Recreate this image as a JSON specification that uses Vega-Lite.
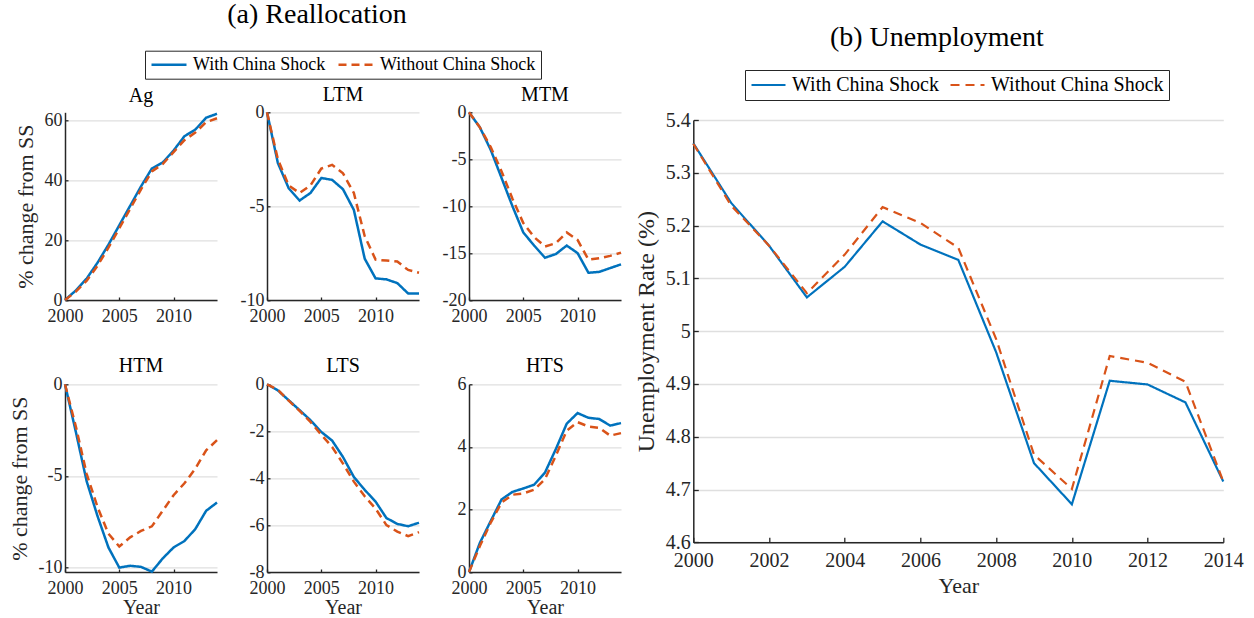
{
  "$schema": "https://vega.github.io/schema/vega-lite/v6.json",
  "autosize": {"type": "none"},
  "padding": {"left": 65, "top": 112.3, "right": 1189, "bottom": 505.7},
  "background": "white",
  "datasets": {
    "sectors": [
      {"panel":"Ag","year":2000,"series":"With China Shock","value":0},
      {"panel":"Ag","year":2001,"series":"With China Shock","value":3.2},
      {"panel":"Ag","year":2002,"series":"With China Shock","value":7.2},
      {"panel":"Ag","year":2003,"series":"With China Shock","value":12.5},
      {"panel":"Ag","year":2004,"series":"With China Shock","value":18.5},
      {"panel":"Ag","year":2005,"series":"With China Shock","value":25},
      {"panel":"Ag","year":2006,"series":"With China Shock","value":31.5},
      {"panel":"Ag","year":2007,"series":"With China Shock","value":38},
      {"panel":"Ag","year":2008,"series":"With China Shock","value":44},
      {"panel":"Ag","year":2009,"series":"With China Shock","value":46},
      {"panel":"Ag","year":2010,"series":"With China Shock","value":50},
      {"panel":"Ag","year":2011,"series":"With China Shock","value":54.8},
      {"panel":"Ag","year":2012,"series":"With China Shock","value":57},
      {"panel":"Ag","year":2013,"series":"With China Shock","value":61},
      {"panel":"Ag","year":2014,"series":"With China Shock","value":62.3},
      {"panel":"Ag","year":2000,"series":"Without China Shock","value":0},
      {"panel":"Ag","year":2001,"series":"Without China Shock","value":2.8},
      {"panel":"Ag","year":2002,"series":"Without China Shock","value":6.5},
      {"panel":"Ag","year":2003,"series":"Without China Shock","value":11.5},
      {"panel":"Ag","year":2004,"series":"Without China Shock","value":17.5},
      {"panel":"Ag","year":2005,"series":"Without China Shock","value":24},
      {"panel":"Ag","year":2006,"series":"Without China Shock","value":30.5},
      {"panel":"Ag","year":2007,"series":"Without China Shock","value":37},
      {"panel":"Ag","year":2008,"series":"Without China Shock","value":43},
      {"panel":"Ag","year":2009,"series":"Without China Shock","value":45.5},
      {"panel":"Ag","year":2010,"series":"Without China Shock","value":49.5},
      {"panel":"Ag","year":2011,"series":"Without China Shock","value":53.5},
      {"panel":"Ag","year":2012,"series":"Without China Shock","value":56},
      {"panel":"Ag","year":2013,"series":"Without China Shock","value":59.5},
      {"panel":"Ag","year":2014,"series":"Without China Shock","value":60.8},
      {"panel":"LTM","year":2000,"series":"With China Shock","value":0},
      {"panel":"LTM","year":2001,"series":"With China Shock","value":-2.7},
      {"panel":"LTM","year":2002,"series":"With China Shock","value":-4.05},
      {"panel":"LTM","year":2003,"series":"With China Shock","value":-4.7},
      {"panel":"LTM","year":2004,"series":"With China Shock","value":-4.3},
      {"panel":"LTM","year":2005,"series":"With China Shock","value":-3.5},
      {"panel":"LTM","year":2006,"series":"With China Shock","value":-3.6},
      {"panel":"LTM","year":2007,"series":"With China Shock","value":-4.1},
      {"panel":"LTM","year":2008,"series":"With China Shock","value":-5.2},
      {"panel":"LTM","year":2009,"series":"With China Shock","value":-7.8},
      {"panel":"LTM","year":2010,"series":"With China Shock","value":-8.85},
      {"panel":"LTM","year":2011,"series":"With China Shock","value":-8.9},
      {"panel":"LTM","year":2012,"series":"With China Shock","value":-9.1},
      {"panel":"LTM","year":2013,"series":"With China Shock","value":-9.65},
      {"panel":"LTM","year":2014,"series":"With China Shock","value":-9.65},
      {"panel":"LTM","year":2000,"series":"Without China Shock","value":0},
      {"panel":"LTM","year":2001,"series":"Without China Shock","value":-2.5},
      {"panel":"LTM","year":2002,"series":"Without China Shock","value":-3.9},
      {"panel":"LTM","year":2003,"series":"Without China Shock","value":-4.3},
      {"panel":"LTM","year":2004,"series":"Without China Shock","value":-3.9},
      {"panel":"LTM","year":2005,"series":"Without China Shock","value":-3.0},
      {"panel":"LTM","year":2006,"series":"Without China Shock","value":-2.8},
      {"panel":"LTM","year":2007,"series":"Without China Shock","value":-3.25},
      {"panel":"LTM","year":2008,"series":"Without China Shock","value":-4.3},
      {"panel":"LTM","year":2009,"series":"Without China Shock","value":-6.6},
      {"panel":"LTM","year":2010,"series":"Without China Shock","value":-7.85},
      {"panel":"LTM","year":2011,"series":"Without China Shock","value":-7.9},
      {"panel":"LTM","year":2012,"series":"Without China Shock","value":-7.95},
      {"panel":"LTM","year":2013,"series":"Without China Shock","value":-8.4},
      {"panel":"LTM","year":2014,"series":"Without China Shock","value":-8.55},
      {"panel":"MTM","year":2000,"series":"With China Shock","value":0},
      {"panel":"MTM","year":2001,"series":"With China Shock","value":-1.6},
      {"panel":"MTM","year":2002,"series":"With China Shock","value":-4.0},
      {"panel":"MTM","year":2003,"series":"With China Shock","value":-7.0},
      {"panel":"MTM","year":2004,"series":"With China Shock","value":-10.0},
      {"panel":"MTM","year":2005,"series":"With China Shock","value":-12.8},
      {"panel":"MTM","year":2006,"series":"With China Shock","value":-14.2},
      {"panel":"MTM","year":2007,"series":"With China Shock","value":-15.5},
      {"panel":"MTM","year":2008,"series":"With China Shock","value":-15.1},
      {"panel":"MTM","year":2009,"series":"With China Shock","value":-14.2},
      {"panel":"MTM","year":2010,"series":"With China Shock","value":-15.0},
      {"panel":"MTM","year":2011,"series":"With China Shock","value":-17.1},
      {"panel":"MTM","year":2012,"series":"With China Shock","value":-17.0},
      {"panel":"MTM","year":2013,"series":"With China Shock","value":-16.6},
      {"panel":"MTM","year":2014,"series":"With China Shock","value":-16.2},
      {"panel":"MTM","year":2000,"series":"Without China Shock","value":0},
      {"panel":"MTM","year":2001,"series":"Without China Shock","value":-1.6},
      {"panel":"MTM","year":2002,"series":"Without China Shock","value":-3.7},
      {"panel":"MTM","year":2003,"series":"Without China Shock","value":-6.3},
      {"panel":"MTM","year":2004,"series":"Without China Shock","value":-9.2},
      {"panel":"MTM","year":2005,"series":"Without China Shock","value":-11.8},
      {"panel":"MTM","year":2006,"series":"Without China Shock","value":-13.3},
      {"panel":"MTM","year":2007,"series":"Without China Shock","value":-14.3},
      {"panel":"MTM","year":2008,"series":"Without China Shock","value":-13.95},
      {"panel":"MTM","year":2009,"series":"Without China Shock","value":-12.8},
      {"panel":"MTM","year":2010,"series":"Without China Shock","value":-13.6},
      {"panel":"MTM","year":2011,"series":"Without China Shock","value":-15.7},
      {"panel":"MTM","year":2012,"series":"Without China Shock","value":-15.55},
      {"panel":"MTM","year":2013,"series":"Without China Shock","value":-15.3},
      {"panel":"MTM","year":2014,"series":"Without China Shock","value":-14.95},
      {"panel":"HTM","year":2000,"series":"With China Shock","value":0},
      {"panel":"HTM","year":2001,"series":"With China Shock","value":-2.6},
      {"panel":"HTM","year":2002,"series":"With China Shock","value":-5.3},
      {"panel":"HTM","year":2003,"series":"With China Shock","value":-7.2},
      {"panel":"HTM","year":2004,"series":"With China Shock","value":-8.9},
      {"panel":"HTM","year":2005,"series":"With China Shock","value":-10.0},
      {"panel":"HTM","year":2006,"series":"With China Shock","value":-9.9},
      {"panel":"HTM","year":2007,"series":"With China Shock","value":-9.96},
      {"panel":"HTM","year":2008,"series":"With China Shock","value":-10.22},
      {"panel":"HTM","year":2009,"series":"With China Shock","value":-9.5},
      {"panel":"HTM","year":2010,"series":"With China Shock","value":-8.9},
      {"panel":"HTM","year":2011,"series":"With China Shock","value":-8.55},
      {"panel":"HTM","year":2012,"series":"With China Shock","value":-7.9},
      {"panel":"HTM","year":2013,"series":"With China Shock","value":-6.9},
      {"panel":"HTM","year":2014,"series":"With China Shock","value":-6.45},
      {"panel":"HTM","year":2000,"series":"Without China Shock","value":0},
      {"panel":"HTM","year":2001,"series":"Without China Shock","value":-2.3},
      {"panel":"HTM","year":2002,"series":"Without China Shock","value":-4.9},
      {"panel":"HTM","year":2003,"series":"Without China Shock","value":-6.7},
      {"panel":"HTM","year":2004,"series":"Without China Shock","value":-8.15},
      {"panel":"HTM","year":2005,"series":"Without China Shock","value":-8.85},
      {"panel":"HTM","year":2006,"series":"Without China Shock","value":-8.35},
      {"panel":"HTM","year":2007,"series":"Without China Shock","value":-8.0},
      {"panel":"HTM","year":2008,"series":"Without China Shock","value":-7.75},
      {"panel":"HTM","year":2009,"series":"Without China Shock","value":-6.9},
      {"panel":"HTM","year":2010,"series":"Without China Shock","value":-6.05},
      {"panel":"HTM","year":2011,"series":"Without China Shock","value":-5.4},
      {"panel":"HTM","year":2012,"series":"Without China Shock","value":-4.6},
      {"panel":"HTM","year":2013,"series":"Without China Shock","value":-3.6},
      {"panel":"HTM","year":2014,"series":"Without China Shock","value":-3.05},
      {"panel":"LTS","year":2000,"series":"With China Shock","value":0},
      {"panel":"LTS","year":2001,"series":"With China Shock","value":-0.26},
      {"panel":"LTS","year":2002,"series":"With China Shock","value":-0.68},
      {"panel":"LTS","year":2003,"series":"With China Shock","value":-1.1},
      {"panel":"LTS","year":2004,"series":"With China Shock","value":-1.53},
      {"panel":"LTS","year":2005,"series":"With China Shock","value":-2.03},
      {"panel":"LTS","year":2006,"series":"With China Shock","value":-2.4},
      {"panel":"LTS","year":2007,"series":"With China Shock","value":-3.1},
      {"panel":"LTS","year":2008,"series":"With China Shock","value":-3.95},
      {"panel":"LTS","year":2009,"series":"With China Shock","value":-4.5},
      {"panel":"LTS","year":2010,"series":"With China Shock","value":-5.0},
      {"panel":"LTS","year":2011,"series":"With China Shock","value":-5.7},
      {"panel":"LTS","year":2012,"series":"With China Shock","value":-5.95},
      {"panel":"LTS","year":2013,"series":"With China Shock","value":-6.05},
      {"panel":"LTS","year":2014,"series":"With China Shock","value":-5.9},
      {"panel":"LTS","year":2000,"series":"Without China Shock","value":0},
      {"panel":"LTS","year":2001,"series":"Without China Shock","value":-0.23},
      {"panel":"LTS","year":2002,"series":"Without China Shock","value":-0.7},
      {"panel":"LTS","year":2003,"series":"Without China Shock","value":-1.13},
      {"panel":"LTS","year":2004,"series":"Without China Shock","value":-1.6},
      {"panel":"LTS","year":2005,"series":"Without China Shock","value":-2.15},
      {"panel":"LTS","year":2006,"series":"Without China Shock","value":-2.67},
      {"panel":"LTS","year":2007,"series":"Without China Shock","value":-3.38},
      {"panel":"LTS","year":2008,"series":"Without China Shock","value":-4.15},
      {"panel":"LTS","year":2009,"series":"Without China Shock","value":-4.77},
      {"panel":"LTS","year":2010,"series":"Without China Shock","value":-5.3},
      {"panel":"LTS","year":2011,"series":"Without China Shock","value":-6.0},
      {"panel":"LTS","year":2012,"series":"Without China Shock","value":-6.28},
      {"panel":"LTS","year":2013,"series":"Without China Shock","value":-6.47},
      {"panel":"LTS","year":2014,"series":"Without China Shock","value":-6.3},
      {"panel":"HTS","year":2000,"series":"With China Shock","value":0},
      {"panel":"HTS","year":2001,"series":"With China Shock","value":0.93},
      {"panel":"HTS","year":2002,"series":"With China Shock","value":1.63},
      {"panel":"HTS","year":2003,"series":"With China Shock","value":2.32},
      {"panel":"HTS","year":2004,"series":"With China Shock","value":2.56},
      {"panel":"HTS","year":2005,"series":"With China Shock","value":2.67},
      {"panel":"HTS","year":2006,"series":"With China Shock","value":2.79},
      {"panel":"HTS","year":2007,"series":"With China Shock","value":3.18},
      {"panel":"HTS","year":2008,"series":"With China Shock","value":3.93},
      {"panel":"HTS","year":2009,"series":"With China Shock","value":4.74},
      {"panel":"HTS","year":2010,"series":"With China Shock","value":5.08},
      {"panel":"HTS","year":2011,"series":"With China Shock","value":4.93},
      {"panel":"HTS","year":2012,"series":"With China Shock","value":4.89},
      {"panel":"HTS","year":2013,"series":"With China Shock","value":4.68},
      {"panel":"HTS","year":2014,"series":"With China Shock","value":4.76},
      {"panel":"HTS","year":2000,"series":"Without China Shock","value":0},
      {"panel":"HTS","year":2001,"series":"Without China Shock","value":0.83},
      {"panel":"HTS","year":2002,"series":"Without China Shock","value":1.58},
      {"panel":"HTS","year":2003,"series":"Without China Shock","value":2.22},
      {"panel":"HTS","year":2004,"series":"Without China Shock","value":2.47},
      {"panel":"HTS","year":2005,"series":"Without China Shock","value":2.51},
      {"panel":"HTS","year":2006,"series":"Without China Shock","value":2.63},
      {"panel":"HTS","year":2007,"series":"Without China Shock","value":2.97},
      {"panel":"HTS","year":2008,"series":"Without China Shock","value":3.72},
      {"panel":"HTS","year":2009,"series":"Without China Shock","value":4.52},
      {"panel":"HTS","year":2010,"series":"Without China Shock","value":4.79},
      {"panel":"HTS","year":2011,"series":"Without China Shock","value":4.65},
      {"panel":"HTS","year":2012,"series":"Without China Shock","value":4.61},
      {"panel":"HTS","year":2013,"series":"Without China Shock","value":4.36},
      {"panel":"HTS","year":2014,"series":"Without China Shock","value":4.44}
    ],
    "unemp": [
      {"year":2000,"series":"With China Shock","rate":5.356},
      {"year":2001,"series":"With China Shock","rate":5.243},
      {"year":2002,"series":"With China Shock","rate":5.162},
      {"year":2003,"series":"With China Shock","rate":5.064},
      {"year":2004,"series":"With China Shock","rate":5.122},
      {"year":2005,"series":"With China Shock","rate":5.208},
      {"year":2006,"series":"With China Shock","rate":5.164},
      {"year":2007,"series":"With China Shock","rate":5.135},
      {"year":2008,"series":"With China Shock","rate":4.96},
      {"year":2009,"series":"With China Shock","rate":4.75},
      {"year":2010,"series":"With China Shock","rate":4.672},
      {"year":2011,"series":"With China Shock","rate":4.906},
      {"year":2012,"series":"With China Shock","rate":4.899},
      {"year":2013,"series":"With China Shock","rate":4.865},
      {"year":2014,"series":"With China Shock","rate":4.715},
      {"year":2000,"series":"Without China Shock","rate":5.355},
      {"year":2001,"series":"Without China Shock","rate":5.238},
      {"year":2002,"series":"Without China Shock","rate":5.162},
      {"year":2003,"series":"Without China Shock","rate":5.072},
      {"year":2004,"series":"Without China Shock","rate":5.145},
      {"year":2005,"series":"Without China Shock","rate":5.235},
      {"year":2006,"series":"Without China Shock","rate":5.205},
      {"year":2007,"series":"Without China Shock","rate":5.158},
      {"year":2008,"series":"Without China Shock","rate":4.985},
      {"year":2009,"series":"Without China Shock","rate":4.766},
      {"year":2010,"series":"Without China Shock","rate":4.701},
      {"year":2011,"series":"Without China Shock","rate":4.953},
      {"year":2012,"series":"Without China Shock","rate":4.94},
      {"year":2013,"series":"Without China Shock","rate":4.904},
      {"year":2014,"series":"Without China Shock","rate":4.715}
    ]
  },
  "hconcat": [
    {
      "title": {"text": "(a) Reallocation", "fontSize": 28, "anchor": "middle", "baseline": "alphabetic", "offset": -1},
      "columns": 3,
      "spacing": {"row": 84, "column": 50},
      "bounds": "flush",
      "resolve": {"scale": {"color": "shared", "strokeDash": "shared"}, "legend": {"color": "shared", "strokeDash": "shared"}},
      "concat": [
        {
          "width": 152, "height": 187.7,
          "title": {"text": "Ag", "offset": 3},
          "data": {"name": "sectors"},
          "transform": [{"filter": "datum.panel === 'Ag'"}],
          "mark": {"type": "line", "strokeWidth": 2.5},
          "encoding": {
            "x": {"field": "year", "type": "quantitative", "scale": {"domain": [2000, 2014], "nice": false, "zero": false}, "axis": {"values": [2000, 2005, 2010], "title": null}},
            "y": {"field": "value", "type": "quantitative", "scale": {"domain": [0, 62.8], "nice": false, "zero": false}, "axis": {"values": [0, 20, 40, 60], "title": "% change from SS"}},
            "color": {"field": "series", "type": "nominal", "scale": {"domain": ["With China Shock", "Without China Shock"], "range": ["#0072BD", "#D95319"]}, "legend": {"orient": "none", "legendX": 80, "legendY": -61.6, "title": null, "labelFontSize": 18, "clipHeight": 18, "direction": "horizontal", "columns": 2}},
            "strokeDash": {"field": "series", "type": "nominal", "scale": {"domain": ["With China Shock", "Without China Shock"], "range": [[1, 0], [8, 5]]}, "legend": {"orient": "none", "legendX": 80, "legendY": -61.6, "title": null, "labelFontSize": 18, "clipHeight": 18, "direction": "horizontal", "columns": 2}}
          }
        },
        {
          "width": 152, "height": 187.7,
          "title": {"text": "LTM", "offset": -1.4},
          "data": {"name": "sectors"},
          "transform": [{"filter": "datum.panel === 'LTM'"}],
          "mark": {"type": "line", "strokeWidth": 2.5},
          "encoding": {
            "x": {"field": "year", "type": "quantitative", "scale": {"domain": [2000, 2014], "nice": false, "zero": false}, "axis": {"values": [2000, 2005, 2010], "title": null}},
            "y": {"field": "value", "type": "quantitative", "scale": {"domain": [-10, 0], "nice": false, "zero": false}, "axis": {"values": [-10, -5, 0], "title": null}},
            "color": {"field": "series", "type": "nominal", "scale": {"domain": ["With China Shock", "Without China Shock"], "range": ["#0072BD", "#D95319"]}},
            "strokeDash": {"field": "series", "type": "nominal", "scale": {"domain": ["With China Shock", "Without China Shock"], "range": [[1, 0], [8, 5]]}}
          }
        },
        {
          "width": 152, "height": 187.7,
          "title": {"text": "MTM", "offset": -1.4},
          "data": {"name": "sectors"},
          "transform": [{"filter": "datum.panel === 'MTM'"}],
          "mark": {"type": "line", "strokeWidth": 2.5},
          "encoding": {
            "x": {"field": "year", "type": "quantitative", "scale": {"domain": [2000, 2014], "nice": false, "zero": false}, "axis": {"values": [2000, 2005, 2010], "title": null}},
            "y": {"field": "value", "type": "quantitative", "scale": {"domain": [-20, 0], "nice": false, "zero": false}, "axis": {"values": [-20, -15, -10, -5, 0], "title": null}},
            "color": {"field": "series", "type": "nominal", "scale": {"domain": ["With China Shock", "Without China Shock"], "range": ["#0072BD", "#D95319"]}},
            "strokeDash": {"field": "series", "type": "nominal", "scale": {"domain": ["With China Shock", "Without China Shock"], "range": [[1, 0], [8, 5]]}}
          }
        },
        {
          "width": 152, "height": 187.7,
          "title": {"text": "HTM", "offset": -0.6},
          "data": {"name": "sectors"},
          "transform": [{"filter": "datum.panel === 'HTM'"}],
          "mark": {"type": "line", "strokeWidth": 2.5},
          "encoding": {
            "x": {"field": "year", "type": "quantitative", "scale": {"domain": [2000, 2014], "nice": false, "zero": false}, "axis": {"values": [2000, 2005, 2010], "title": "Year"}},
            "y": {"field": "value", "type": "quantitative", "scale": {"domain": [-10.24, 0], "nice": false, "zero": false}, "axis": {"values": [-10, -5, 0], "title": "% change from SS"}},
            "color": {"field": "series", "type": "nominal", "scale": {"domain": ["With China Shock", "Without China Shock"], "range": ["#0072BD", "#D95319"]}},
            "strokeDash": {"field": "series", "type": "nominal", "scale": {"domain": ["With China Shock", "Without China Shock"], "range": [[1, 0], [8, 5]]}}
          }
        },
        {
          "width": 152, "height": 187.7,
          "title": {"text": "LTS", "offset": -0.6},
          "data": {"name": "sectors"},
          "transform": [{"filter": "datum.panel === 'LTS'"}],
          "mark": {"type": "line", "strokeWidth": 2.5},
          "encoding": {
            "x": {"field": "year", "type": "quantitative", "scale": {"domain": [2000, 2014], "nice": false, "zero": false}, "axis": {"values": [2000, 2005, 2010], "title": "Year"}},
            "y": {"field": "value", "type": "quantitative", "scale": {"domain": [-8, 0], "nice": false, "zero": false}, "axis": {"values": [-8, -6, -4, -2, 0], "title": null}},
            "color": {"field": "series", "type": "nominal", "scale": {"domain": ["With China Shock", "Without China Shock"], "range": ["#0072BD", "#D95319"]}},
            "strokeDash": {"field": "series", "type": "nominal", "scale": {"domain": ["With China Shock", "Without China Shock"], "range": [[1, 0], [8, 5]]}}
          }
        },
        {
          "width": 152, "height": 187.7,
          "title": {"text": "HTS", "offset": -0.6},
          "data": {"name": "sectors"},
          "transform": [{"filter": "datum.panel === 'HTS'"}],
          "mark": {"type": "line", "strokeWidth": 2.5},
          "encoding": {
            "x": {"field": "year", "type": "quantitative", "scale": {"domain": [2000, 2014], "nice": false, "zero": false}, "axis": {"values": [2000, 2005, 2010], "title": "Year"}},
            "y": {"field": "value", "type": "quantitative", "scale": {"domain": [0, 6], "nice": false, "zero": false}, "axis": {"values": [0, 2, 4, 6], "title": null}},
            "color": {"field": "series", "type": "nominal", "scale": {"domain": ["With China Shock", "Without China Shock"], "range": ["#0072BD", "#D95319"]}},
            "strokeDash": {"field": "series", "type": "nominal", "scale": {"domain": ["With China Shock", "Without China Shock"], "range": [[1, 0], [8, 5]]}}
          }
        }
      ]
    },
    {
      "vconcat": [
        {
          "width": 530, "height": 1,
          "data": {"values": [{"a": 1}]},
          "mark": {"type": "point", "opacity": 0},
          "encoding": {}
        },
        {
          "width": 530, "height": 422.3,
          "title": {"text": "(b) Unemployment", "fontSize": 28, "anchor": "middle", "baseline": "alphabetic", "offset": 36.5, "dx": -21.5},
          "data": {"name": "unemp"},
          "mark": {"type": "line", "strokeWidth": 2.2},
          "encoding": {
            "x": {"field": "year", "type": "quantitative", "scale": {"domain": [2000, 2014], "nice": false, "zero": false}, "axis": {"values": [2000, 2002, 2004, 2006, 2008, 2010, 2012, 2014], "title": "Year", "labelFontSize": 20, "titleFontSize": 22, "tickSize": -5, "labelPadding": 13.4, "titlePadding": 4.7}},
            "y": {"field": "rate", "type": "quantitative", "scale": {"domain": [4.6, 5.4], "nice": false, "zero": false}, "axis": {"values": [4.6, 4.7, 4.8, 4.9, 5, 5.1, 5.2, 5.3, 5.4], "title": "Unemployment Rate (%)", "labelFontSize": 20, "titleFontSize": 24, "tickSize": -5, "labelPadding": 8, "titlePadding": 7}},
            "color": {"field": "series", "type": "nominal", "scale": {"domain": ["With China Shock", "Without China Shock"], "range": ["#0072BD", "#D95319"]}, "legend": {"orient": "none", "legendX": 51.7, "legendY": -42.3, "title": null, "labelFontSize": 20, "clipHeight": 20, "direction": "horizontal", "columns": 2, "symbolSize": 1156, "columnPadding": 10, "symbolStrokeWidth": 2.2}},
            "strokeDash": {"field": "series", "type": "nominal", "scale": {"domain": ["With China Shock", "Without China Shock"], "range": [[1, 0], [9, 6]]}, "legend": {"orient": "none", "legendX": 51.7, "legendY": -42.3, "title": null, "labelFontSize": 20, "clipHeight": 20, "direction": "horizontal", "columns": 2, "symbolSize": 1156, "columnPadding": 10, "symbolStrokeWidth": 2.2}}
          }
        }
      ],
      "spacing": 6.7,
      "bounds": "flush"
    }
  ],
  "spacing": 628.3,
  "bounds": "flush",
  "resolve": {"scale": {"color": "independent", "strokeDash": "independent"}, "legend": {"color": "independent", "strokeDash": "independent"}},
  "config": {
    "font": "Liberation Serif",
    "view": {"stroke": null},
    "title": {"font": "Liberation Serif", "fontWeight": "normal", "color": "#000000", "fontSize": 20, "baseline": "alphabetic", "anchor": "middle"},
    "axis": {
      "labelFont": "Liberation Serif", "titleFont": "Liberation Serif", "labelColor": "#262626", "titleColor": "#262626",
      "titleFontWeight": "normal", "domainColor": "#262626", "domainWidth": 1.5, "tickColor": "#262626", "tickWidth": 1.3,
      "gridColor": "#dfdfdf", "gridWidth": 1.3, "labelFlush": false, "labelOverlap": false, "labelExpr": "datum.value + ''",
      "labelFontSize": 18, "titleFontSize": 22, "tickSize": -3
    },
    "axisX": {"grid": false, "labelPadding": 10.7, "titlePadding": 0, "titleFontSize": 20},
    "axisY": {"grid": true, "labelPadding": 6, "titlePadding": 7},
    "legend": {
      "symbolType": "stroke", "symbolSize": 1225, "symbolStrokeWidth": 2.5, "labelFont": "Liberation Serif", "labelColor": "#000000",
      "labelOffset": 5, "columnPadding": 11, "padding": 5, "strokeColor": "#262626", "fillColor": "#ffffff", "labelLimit": 400, "rowPadding": 0
    }
  }
}
